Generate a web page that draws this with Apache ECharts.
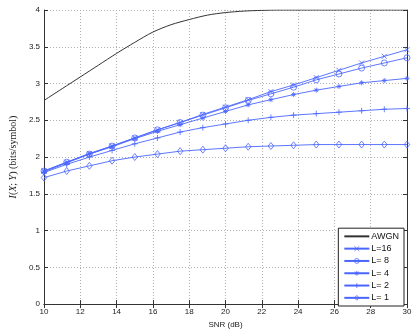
<!DOCTYPE html>
<html>
<head>
<meta charset="utf-8">
<script src="https://cdn.jsdelivr.net/npm/echarts@6/dist/echarts.min.js"></script>
<style>
  html, body { margin: 0; padding: 0; background: #fff; }
  #chart { width: 415px; height: 334px; }
</style>
</head>
<body>
<div id="chart"></div>
<script>
// SNR grid (dB)
const snrAwgn = [10, 11, 12, 13, 14, 15, 16, 17, 18, 19, 20, 21, 22, 23, 24, 25, 26, 27, 28, 29, 30];
const awgn = [2.77, 2.93, 3.09, 3.25, 3.41, 3.56, 3.70, 3.80, 3.87, 3.93, 3.965, 3.985, 3.995, 4.0, 4.0, 4.0, 4.0, 4.0, 4.0, 4.0, 4.0];

const snr = [10, 11.25, 12.5, 13.75, 15, 16.25, 17.5, 18.75, 20, 21.25, 22.5, 23.75, 25, 26.25, 27.5, 28.75, 30];
const l16 = [1.81, 1.93, 2.05, 2.15, 2.26, 2.37, 2.47, 2.58, 2.68, 2.78, 2.89, 2.98, 3.08, 3.18, 3.28, 3.37, 3.46];
const l8  = [1.81, 1.93, 2.04, 2.15, 2.26, 2.37, 2.47, 2.57, 2.67, 2.77, 2.86, 2.95, 3.05, 3.13, 3.21, 3.28, 3.35];
const l4  = [1.80, 1.92, 2.04, 2.14, 2.25, 2.35, 2.44, 2.53, 2.62, 2.71, 2.78, 2.85, 2.91, 2.96, 3.01, 3.04, 3.07];
const l2  = [1.79, 1.90, 2.00, 2.09, 2.18, 2.26, 2.34, 2.40, 2.45, 2.50, 2.54, 2.57, 2.59, 2.61, 2.63, 2.65, 2.66];
const l1  = [1.72, 1.81, 1.88, 1.95, 2.00, 2.04, 2.08, 2.10, 2.12, 2.14, 2.15, 2.16, 2.17, 2.17, 2.17, 2.17, 2.17];

const blue = '#4a66ff';
const font = 'Liberation Sans';

// marker outlines (stroke only, no fill)
const mX = 'path://M0,0L10,10M10,0L0,10';
const mCircle = 'path://M10,5A5,5,0,1,1,0,5A5,5,0,1,1,10,5Z';
const mStar = 'path://M5,0L5,10M0,5L10,5M1.5,1.5L8.5,8.5M8.5,1.5L1.5,8.5';
const mPlus = 'path://M5,0L5,10M0,5L10,5';
const mDiamond = 'path://M5,0L10,5L5,10L0,5Z';

const markerStyle = { color: 'rgba(255,255,255,0)', borderColor: blue, borderWidth: 0.8 };

const pairs = (xs, ys) => xs.map((x, i) => [x, ys[i]]);

const blueSeries = (name, ys, symbol, size) => ({
  name: name,
  type: 'line',
  data: pairs(snr, ys),
  symbol: symbol,
  symbolSize: size,
  symbolKeepAspect: false,
  lineStyle: { color: blue, width: 0.9 },
  itemStyle: markerStyle,
  emphasis: { disabled: true }
});

const chart = echarts.init(document.getElementById('chart'), null, { renderer: 'canvas' });

const axisLine = { show: true, lineStyle: { color: '#333', width: 1 } };
const tickIn = { show: true, inside: true, length: 4, lineStyle: { color: '#333' } };

chart.setOption({
  animation: false,
  backgroundColor: '#fff',
  grid: { left: 31, right: 8, top: 10, bottom: 23 },
  xAxis: [{
    type: 'value', min: 10, max: 30, interval: 2,
    name: 'SNR (dB)', nameLocation: 'middle', nameGap: 15,
    nameTextStyle: { fontFamily: font, fontSize: 8, color: '#222' },
    axisLine: axisLine, axisTick: tickIn,
    axisLabel: { fontFamily: font, fontSize: 8, color: '#222', margin: 4 },
    splitLine: { show: true, lineStyle: { type: [1, 2], color: '#b0b0b0' } }
  }, {
    type: 'value', min: 10, max: 30, interval: 2, position: 'top',
    axisLine: axisLine, axisTick: tickIn, axisLabel: { show: false }, splitLine: { show: false }
  }],
  yAxis: [{
    type: 'value', min: 0, max: 4, interval: 0.5,
    name: '{it|I}{n|(}{it|X}{n|; }{it|Y}{n|) (bits/symbol)}',
    nameLocation: 'middle', nameGap: 17, nameRotate: 90,
    nameTextStyle: {
      rich: {
        it: { fontFamily: 'Liberation Serif', fontStyle: 'italic', fontSize: 10, color: '#222' },
        n: { fontFamily: 'Liberation Serif', fontSize: 10, color: '#222' }
      }
    },
    axisLine: axisLine, axisTick: tickIn,
    axisLabel: { fontFamily: font, fontSize: 8, color: '#222', margin: 4 },
    splitLine: { show: true, lineStyle: { type: [1, 2], color: '#b0b0b0' } }
  }, {
    type: 'value', min: 0, max: 4, interval: 0.5, position: 'right',
    axisLine: axisLine, axisTick: tickIn, axisLabel: { show: false }, splitLine: { show: false }
  }],
  legend: {
    orient: 'vertical',
    right: 11, bottom: 28,
    backgroundColor: '#fff',
    borderColor: '#222', borderWidth: 1, borderRadius: 0,
    padding: [2, 5, 2, 5],
    itemWidth: 25, itemHeight: 6, itemGap: 0,
    textStyle: { fontFamily: font, fontSize: 9, color: '#111', lineHeight: 12.3, padding: [0, 0, 0, -3] },
    data: [
      { name: 'AWGN', itemStyle: { opacity: 0 } },
      { name: 'L=16', itemStyle: markerStyle },
      { name: 'L= 8', itemStyle: markerStyle },
      { name: 'L= 4', itemStyle: markerStyle },
      { name: 'L= 2', itemStyle: markerStyle },
      { name: 'L= 1', itemStyle: markerStyle }
    ]
  },
  series: [
    {
      name: 'AWGN', type: 'line', data: pairs(snrAwgn, awgn),
      symbol: 'none', smooth: 0.3,
      lineStyle: { color: '#333', width: 1 },
      itemStyle: { color: '#333' },
      emphasis: { disabled: true }
    },
    blueSeries('L=16', l16, mX, 5),
    blueSeries('L= 8', l8, mCircle, 6),
    blueSeries('L= 4', l4, mStar, 5),
    blueSeries('L= 2', l2, mPlus, 6),
    blueSeries('L= 1', l1, mDiamond, [5.5, 7])
  ]
});
</script>
</body>
</html>
